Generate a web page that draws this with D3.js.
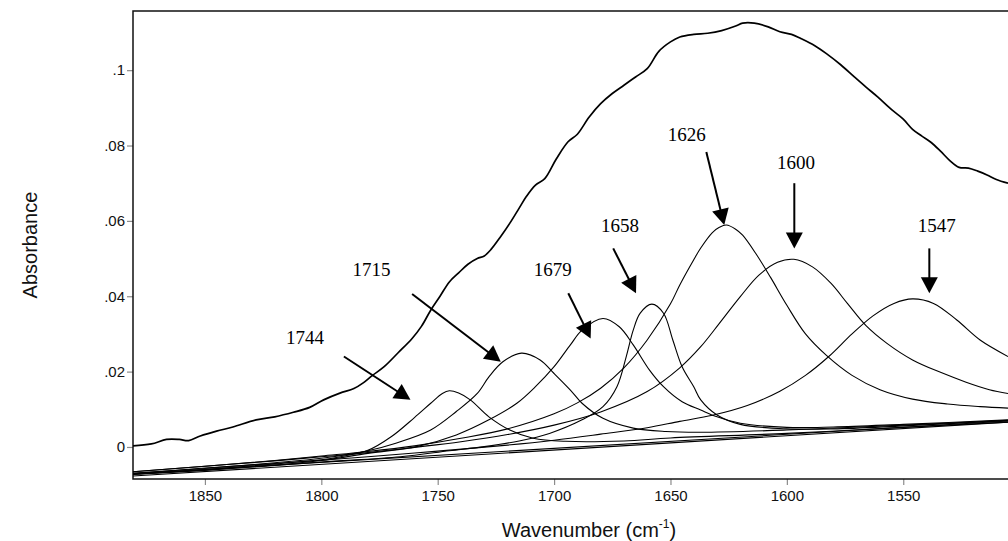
<!DOCTYPE html>
<html><head><meta charset="utf-8">
<script src="https://cdn.jsdelivr.net/npm/d3@7"></script>
<style>body{margin:0;background:#fff;}</style>
</head><body>
<svg id="chart" width="1008" height="541"></svg>
<script>
// ---------- data ----------
const wavenumberTicks = [1850, 1800, 1750, 1700, 1650, 1600, 1550];
const absorbanceTicks = [0, 0.02, 0.04, 0.06, 0.08, 0.1];
const absorbanceTickLabels = ["0", ".02", ".04", ".06", ".08", ".1"];

// measured spectrum [wavenumber, absorbance]
const spectrum = [[1881,0.0003],[1873,0.0008],[1866.5,0.0020],[1861,0.0020],[1857,0.0017],[1852,0.0029],[1845,0.0042],[1838,0.0053],[1828,0.0072],[1820,0.0080],[1812,0.0092],[1805,0.0105],[1799,0.0125],[1792,0.0143],[1786,0.0155],[1782,0.0170],[1778,0.0190],[1773,0.0213],[1767,0.0250],[1761,0.0288],[1757,0.0320],[1753,0.0363],[1749,0.0400],[1745,0.0438],[1741,0.0462],[1737,0.0485],[1733,0.0500],[1730,0.0507],[1727,0.0525],[1723,0.0558],[1719,0.0594],[1715,0.0634],[1712,0.0664],[1708,0.0695],[1704,0.0712],[1699,0.0765],[1694,0.0810],[1690,0.0830],[1685,0.0875],[1680,0.0911],[1675,0.0938],[1670,0.0960],[1665,0.0982],[1660,0.1004],[1655,0.1050],[1650,0.1075],[1646,0.1088],[1640,0.1095],[1634,0.1098],[1628,0.1105],[1622,0.1117],[1619,0.1125],[1614,0.1125],[1608,0.1115],[1603,0.1102],[1598,0.1095],[1594,0.1084],[1588,0.1065],[1583,0.1044],[1577,0.1015],[1571,0.0982],[1566,0.0955],[1561,0.0929],[1555,0.0895],[1550,0.0870],[1546,0.0843],[1542,0.0825],[1538,0.0808],[1534,0.0785],[1530,0.0760],[1526,0.0742],[1522,0.0740],[1518,0.0732],[1514,0.0722],[1510,0.0710],[1505,0.0700]];

// fitted component bands [wavenumber, absorbance]
const band1744 = [[1881,-0.0072],[1850,-0.0060],[1820,-0.0045],[1800,-0.0034],[1790,-0.0024],[1780,-0.0009],[1770,0.0027],[1760,0.0078],[1753,0.0116],[1748,0.0142],[1745,0.0149],[1741,0.0143],[1736,0.0125],[1728,0.0080],[1719,0.0045],[1709,0.0023],[1695,0.0015],[1670,0.0016],[1650,0.0024],[1600,0.0036],[1550,0.0052],[1505,0.0066]];
const band1715 = [[1881,-0.0070],[1850,-0.0057],[1820,-0.0042],[1800,-0.0030],[1780,-0.0010],[1768,0.0010],[1753,0.0045],[1742,0.0094],[1733,0.0142],[1728,0.0186],[1722,0.0226],[1714,0.0249],[1706,0.0231],[1700,0.0195],[1693,0.0151],[1688,0.0116],[1679,0.0076],[1666,0.0050],[1652,0.0041],[1637,0.0039],[1600,0.0045],[1550,0.0058],[1505,0.0071]];
const band1679 = [[1881,-0.0072],[1850,-0.0061],[1820,-0.0048],[1800,-0.0036],[1780,-0.0017],[1759,0.0001],[1742,0.0032],[1728,0.0072],[1716,0.0116],[1708,0.0160],[1700,0.0213],[1693,0.0271],[1688,0.0310],[1679,0.0341],[1672,0.0319],[1666,0.0271],[1659,0.0204],[1653,0.0160],[1645,0.0120],[1637,0.0098],[1630,0.0080],[1620,0.0063],[1600,0.0052],[1580,0.0053],[1550,0.0060],[1505,0.0072]];
const band1658 = [[1881,-0.0073],[1850,-0.0062],[1800,-0.0040],[1766,-0.0026],[1745,-0.0010],[1730,0.0001],[1715,0.0016],[1702,0.0036],[1688,0.0072],[1679,0.0107],[1673,0.0160],[1669,0.0240],[1666,0.0310],[1663,0.0355],[1658,0.0379],[1653,0.0355],[1649,0.0284],[1645,0.0213],[1640,0.0160],[1637,0.0125],[1630,0.0085],[1620,0.0060],[1600,0.0048],[1580,0.0048],[1550,0.0056],[1505,0.0070]];
const band1626 = [[1881,-0.0066],[1850,-0.0051],[1820,-0.0036],[1800,-0.0024],[1780,-0.0012],[1760,0.0003],[1740,0.0023],[1720,0.0048],[1700,0.0088],[1690,0.0117],[1680,0.0156],[1670,0.0210],[1660,0.0284],[1650,0.0380],[1646,0.0430],[1640,0.0497],[1637,0.0528],[1632,0.0569],[1629,0.0583],[1626,0.0589],[1622,0.0578],[1619,0.0562],[1613,0.0510],[1607,0.0450],[1600,0.0376],[1592,0.0300],[1583,0.0243],[1572,0.0190],[1560,0.0152],[1546,0.0127],[1531,0.0114],[1517,0.0107],[1505,0.0103]];
const band1600 = [[1881,-0.0066],[1850,-0.0051],[1820,-0.0037],[1800,-0.0026],[1780,-0.0015],[1760,-0.0001],[1740,0.0014],[1720,0.0033],[1700,0.0058],[1680,0.0093],[1660,0.0147],[1646,0.0210],[1637,0.0266],[1629,0.0328],[1620,0.0399],[1612,0.0456],[1604,0.0490],[1597,0.0498],[1589,0.0478],[1581,0.0434],[1574,0.0381],[1566,0.0322],[1557,0.0275],[1546,0.0231],[1534,0.0198],[1523,0.0172],[1513,0.0152],[1505,0.0142]];
const band1547 = [[1881,-0.0070],[1850,-0.0056],[1820,-0.0044],[1780,-0.0026],[1750,-0.0011],[1720,0.0005],[1700,0.0018],[1680,0.0034],[1660,0.0051],[1646,0.0068],[1632,0.0084],[1617,0.0110],[1603,0.0148],[1592,0.0190],[1582,0.0240],[1572,0.0300],[1563,0.0348],[1554,0.0381],[1546,0.0393],[1537,0.0381],[1527,0.0337],[1517,0.0284],[1505,0.0240]];
const baselineA = [[1881,-0.0077],[1505,0.0066]];
const baselineB = [[1881,-0.0071],[1505,0.0069]];

// peak annotations: label position, arrow start, arrow tip  [wavenumber, absorbance]
const peakLabels = ["1744", "1715", "1679", "1658", "1626", "1600", "1547"];
const labelAt   = [[1807.0,0.0291],[1778.4,0.0472],[1700.6,0.0472],[1671.7,0.0589],[1643.0,0.0828],[1596.1,0.0756],[1535.6,0.0589]];
const arrowFrom = [[1790.3,0.0240],[1761.0,0.0406],[1693.9,0.0408],[1674.6,0.0527],[1634.6,0.0783],[1596.8,0.0700],[1538.8,0.0527]];
const arrowTo   = [[1761.7,0.0125],[1722.9,0.0226],[1684.3,0.0288],[1664.8,0.0408],[1626.9,0.0589],[1596.8,0.0527],[1538.8,0.0408]];

// ---------- chart ----------
const svg = d3.select("#chart");
const L = 133, T = 11, B = 479, R = 1045;
const x = d3.scaleLinear().domain([1880.9, 1505]).range([133, 1008]);
const y = d3.scaleLinear().domain([-0.0085, 0.1157]).range([B, T]);

svg.append("defs").append("clipPath").attr("id", "plotclip")
  .append("rect").attr("x", L).attr("y", T).attr("width", R - L).attr("height", B - T);

// axes
const gx = svg.append("g").attr("transform", `translate(0,${B})`)
  .call(d3.axisBottom(x).tickValues(wavenumberTicks).tickSize(6).tickPadding(5).tickFormat(d3.format("d")));
const gy = svg.append("g").attr("transform", `translate(${L},0)`)
  .call(d3.axisLeft(y).tickValues(absorbanceTicks).tickSize(6).tickPadding(2)
    .tickFormat((d, i) => absorbanceTickLabels[i]));
[gx, gy].forEach(g => {
  g.select(".domain").remove();
  g.selectAll(".tick line").attr("stroke", "#8c8c8c").attr("stroke-width", 1.2);
  g.selectAll(".tick text").attr("font-family", "Liberation Sans, Arial, sans-serif")
    .attr("font-size", 15).attr("fill", "#111");
});

// frame
svg.append("rect").attr("x", L).attr("y", T).attr("width", R - L).attr("height", B - T)
  .attr("fill", "none").attr("stroke", "#111").attr("stroke-width", 1.5);

// lines
const line = d3.line().x(d => x(d[0])).y(d => y(d[1])).curve(d3.curveCatmullRom.alpha(0.5));
const plot = svg.append("g").attr("clip-path", "url(#plotclip)");
const thin = [baselineA, baselineB, band1744, band1715, band1679, band1658, band1626, band1600, band1547];
plot.selectAll("path.band").data(thin).join("path").attr("class", "band")
  .attr("d", line).attr("fill", "none").attr("stroke", "#000").attr("stroke-width", 1.1);
plot.append("path").datum(spectrum).attr("d", line)
  .attr("fill", "none").attr("stroke", "#000").attr("stroke-width", 1.7);

// annotations
const ann = svg.append("g");
peakLabels.forEach((lab, i) => {
  ann.append("text").attr("x", x(labelAt[i][0])).attr("y", y(labelAt[i][1]))
    .attr("text-anchor", "middle").attr("dominant-baseline", "central")
    .attr("font-family", "Liberation Serif, Times New Roman, serif").attr("font-size", 19)
    .attr("fill", "#000").text(lab);
  const x0 = x(arrowFrom[i][0]), y0 = y(arrowFrom[i][1]);
  const x1 = x(arrowTo[i][0]), y1 = y(arrowTo[i][1]);
  const dx = x1 - x0, dy = y1 - y0, len = Math.hypot(dx, dy);
  const ux = dx / len, uy = dy / len;
  const head = 16, half = 8.5;
  const bx = x1 - ux * head, by = y1 - uy * head;
  ann.append("line").attr("x1", x0).attr("y1", y0).attr("x2", bx + ux * 2).attr("y2", by + uy * 2)
    .attr("stroke", "#000").attr("stroke-width", 2);
  ann.append("polygon")
    .attr("points", [[x1, y1], [bx - uy * half, by + ux * half], [bx + uy * half, by - ux * half]].map(p => p.join(",")).join(" "))
    .attr("fill", "#000");
});

// axis titles
const title = svg.append("text").attr("x", 589).attr("y", 537).attr("text-anchor", "middle")
  .attr("font-family", "Liberation Sans, Arial, sans-serif").attr("font-size", 20).attr("fill", "#111");
title.append("tspan").text("Wavenumber (cm");
title.append("tspan").attr("font-size", 12).attr("dy", -9).text("-1");
title.append("tspan").attr("dy", 9).text(")");

svg.append("text").attr("transform", "translate(37,245) rotate(-90)").attr("text-anchor", "middle")
  .attr("font-family", "Liberation Sans, Arial, sans-serif").attr("font-size", 20).attr("fill", "#111")
  .text("Absorbance");
</script>
</body></html>
